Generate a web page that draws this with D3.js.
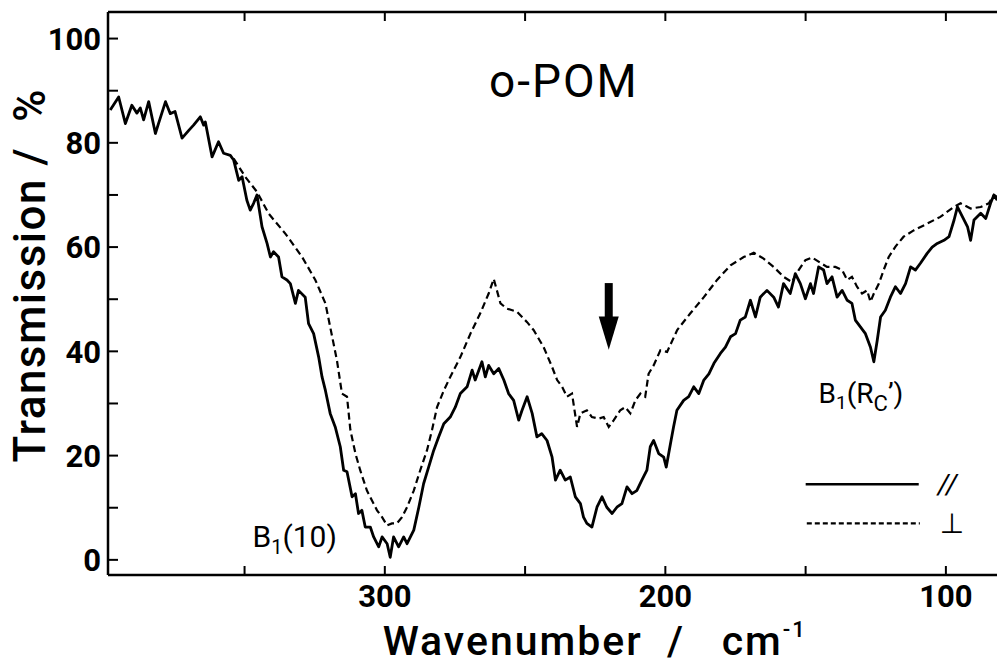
<!DOCTYPE html>
<html>
<head>
<meta charset="utf-8">
<script src="https://cdn.jsdelivr.net/npm/d3@7"></script>
<style>
  body { margin: 0; background: #fff; }
  svg text { font-family: Roboto, "DejaVu Sans", sans-serif; fill: #000; white-space: pre; }
</style>
</head>
<body>
<div id="chart"></div>
<script>
// wavenumber (cm-1) and transmission (%)
const parWn = [397.7, 394.7, 392.3, 390, 388.2, 387, 385.8, 384, 381.6, 380.5, 378, 376.3, 374.6, 372.1, 369.7, 368, 365.6, 364.4, 363.8, 361.4,
  359.1, 357.3, 354.9, 353.7, 351.9, 350.7, 349, 347.8, 346.6, 345.4, 343.6, 341.8, 340.6, 339.5, 337.7, 336.5, 334.7, 333.5, 331.7, 330.6,
  328.2, 327, 325.2, 323.4, 322.2, 321, 319.3, 317.5, 315.7, 314.5, 313.3, 311.5, 310.3, 309.2, 308, 306.8, 305, 303.8, 302, 300.8,
  299, 297.9, 296.7, 294.9, 293.1, 291.9, 289.5, 287.7, 286, 284.2, 282.4, 280.6, 278.8, 276.5, 274.7, 272.9, 270.5, 268.7, 267.6, 265.2,
  264, 262.8, 261, 259.2, 257.4, 255.7, 253.9, 252.1, 250.9, 249.1, 247.3, 245.6, 243.9, 242, 240.2, 239, 237.3, 235.5, 233.7, 231.9,
  230.1, 229, 227.8, 226, 224.2, 222.4, 220.7, 218.8, 217.1, 215.3, 213.5, 211.7, 210, 208.2, 206.4, 205.2, 204, 202.2, 200.4, 199.5,
  198, 196.9, 195.7, 193.3, 191.5, 189.7, 187.9, 186.1, 184.3, 182.5, 180.2, 178.4, 176.6, 174.8, 173.1, 171.3, 169.5, 167.7, 166, 163.6,
  161.2, 159.5, 157.7, 155.3, 153.5, 151.7, 149.9, 148.1, 147, 145.2, 143.4, 142.2, 140.4, 138.6, 136.8, 135, 133.3, 132.1, 130.3, 128.5,
  126.7, 125.5, 124.3, 123.1, 121.4, 119.6, 117.8, 116, 114.2, 112.4, 110.7, 108.9, 106.5, 104.7, 102.9, 100.5, 98.7, 96.9, 95.7, 93.9,
  92.1, 91, 89.8, 87.4, 85.6, 83.9, 82.7, 81.5];
const parT = [86.2, 88.7, 83.6, 87.1, 85.6, 86.6, 84.3, 87.8, 81.7, 83.6, 87.8, 85.5, 85.9, 80.8, 82.3, 83.3, 84.9, 83.3, 83.9, 77.2,
  80.1, 77.9, 77.5, 76.6, 72.7, 73.4, 68.9, 67, 68.3, 69.9, 63.8, 60.6, 58, 59, 58, 54.2, 53.6, 52.9, 49.1, 51.6,
  50.3, 45.2, 43.3, 38.8, 35, 32.4, 28, 25.4, 21.6, 17.1, 16.8, 12, 12.6, 8.8, 9.4, 6.2, 6.2, 4.3, 2.4, 4.3,
  3.0, 0.4, 4.3, 2.4, 4.3, 3.0, 5.6, 10, 14.5, 17.7, 20.9, 23.5, 26, 27.3, 29.2, 31.8, 33.1, 36.3, 34.4, 37.9,
  35, 37.2, 35.6, 36.6, 34.4, 31.8, 30.5, 26.7, 28.6, 31.2, 28, 23.5, 24.1, 22.8, 19.6, 15.2, 17.1, 15.2, 15.8, 12,
  10.7, 8.1, 6.9, 6.2, 10, 12, 10, 8.8, 10, 10.7, 13.9, 12.6, 13.2, 15.2, 17.1, 21.6, 22.8, 20.3, 19.6, 17.7,
  22.2, 25.4, 28.6, 30.5, 31.2, 33.1, 31.8, 34.4, 35.6, 37.6, 39.5, 40.7, 42.7, 43.3, 45.9, 46.5, 49.7, 46.5, 50.3, 51.6,
  50.3, 48.4, 52.9, 51, 54.8, 52.9, 50, 52.9, 51, 56.1, 55.5, 52.9, 54.2, 50.3, 51.6, 49.7, 49.1, 45.9, 44.6, 43.3,
  40.7, 37.9, 42, 46.5, 47.8, 50.3, 52.3, 51, 52.9, 56.1, 55.5, 56.8, 58.7, 59.9, 60.6, 61.2, 61.9, 65.1, 67.6, 65.7,
  63.8, 61.2, 65.1, 66.4, 65.4, 68.3, 69.9, 68.9];

const perpWn = [353.7, 349.6, 345.4, 341.2, 335.3, 329.3, 324.6, 321, 319.3, 316.9, 315.1, 313.3, 312.1, 310.3, 308.6, 306.2, 304.4, 302.6, 300.8, 299,
  297.3, 295.5, 293.7, 291.9, 289.5, 287.2, 284.8, 283, 281.2, 278.8, 276.5, 272.9, 269.3, 265.8, 262.8, 261, 258.6, 256.3, 252.7, 249.1,
  246.8, 243.2, 240.2, 238.4, 236.6, 234.9, 233.1, 231.3, 230.1, 227.8, 226, 223.6, 221.8, 220, 218.2, 215.9, 214.1, 212.3, 210.5, 208.7,
  207, 205.8, 204, 201.6, 199.2, 195.6, 190.9, 186.1, 181.4, 176.6, 171.9, 168.3, 164.8, 161.2, 157.7, 154.7, 152.3, 149.9, 147.5, 145.2,
  142.2, 139.2, 136.8, 135, 133.3, 131.5, 129.7, 127.9, 126.7, 125.5, 123.7, 122, 120.2, 117.8, 114.9, 111.3, 106.5, 101.8, 97, 94.6,
  91, 87.4, 84.5, 82.7, 81.5];
const perpT = [76.9, 73.4, 70.5, 66.3, 62.5, 58, 53.6, 49.1, 44.6, 38.2, 31.8, 31.2, 24.8, 20.3, 17.1, 13.2, 11.3, 9.4, 8.1, 6.5,
  6.9, 6.9, 8.1, 10, 13.2, 17.1, 20.9, 24.8, 29.2, 32.4, 35, 38.8, 43.3, 47.2, 51, 53.8, 49.1, 48.1, 47.5, 45.5,
  44, 40.7, 36.9, 34.4, 33.1, 31.2, 31.8, 25.4, 28, 28.6, 27.3, 27, 27.3, 25.4, 26.7, 28.6, 29.2, 28, 30.5, 31.8,
  31.2, 35.6, 37.2, 40.1, 39.8, 44, 47.2, 50.3, 53.6, 56.4, 58, 58.8, 57.7, 56.1, 54.2, 53.2, 55.5, 57.4, 57.9, 57.1,
  56.1, 56.1, 55.5, 53.6, 54.2, 52.3, 51, 51.6, 49.4, 51, 52.9, 55.5, 58, 60, 61.9, 63.1, 64.4, 65.7, 67.6, 68.3,
  67.3, 67.6, 68.3, 69.9, 69.5];

const yTicks = [0, 20, 40, 60, 80, 100];
const yMinor = [10, 30, 50, 70, 90];
const xTicks = [350, 300, 250, 200, 150, 100];
const xLabels = [300, 200, 100];

const w = 997;
const h = 667;
const margin = { top: 12, right: 0, bottom: 92, left: 108 };

const svg = d3.select('#chart').append('svg').attr('width', w).attr('height', h);

const x = d3.scaleLinear().domain([398.5, 81.6]).range([margin.left, w - margin.right]);
const y = d3.scaleLinear().domain([-3, 105]).range([h - margin.bottom, margin.top]);

const plotBottom = h - margin.bottom;

// left axis, ticks pointing inward
svg.append('g')
  .attr('transform', `translate(${margin.left},0)`)
  .call(d3.axisLeft(y).tickValues(yTicks).tickSizeInner(-10).tickSizeOuter(0).tickPadding(7).tickFormat(d3.format('d')))
  .call(g => g.select('.domain').remove())
  .call(g => g.selectAll('line').attr('stroke-width', 2))
  .call(g => g.selectAll('text').attr('font-size', 31).attr('font-weight', 700).attr('dy', '0.36em'));

svg.append('g')
  .attr('transform', `translate(${margin.left},0)`)
  .call(d3.axisLeft(y).tickValues(yMinor).tickSizeInner(-10).tickSizeOuter(0).tickFormat(''))
  .call(g => g.select('.domain').remove())
  .call(g => g.selectAll('line').attr('stroke-width', 2));

// bottom axis
svg.append('g')
  .attr('transform', `translate(0,${plotBottom})`)
  .call(d3.axisBottom(x).tickValues(xTicks).tickSizeInner(-9).tickSizeOuter(0).tickPadding(10)
    .tickFormat(d => xLabels.includes(d) ? d : ''))
  .call(g => g.select('.domain').remove())
  .call(g => g.selectAll('line').attr('stroke-width', 2))
  .call(g => g.selectAll('text').attr('font-size', 31).attr('font-weight', 700).attr('dy', '0.71em'));

// top axis
svg.append('g')
  .attr('transform', `translate(0,${margin.top})`)
  .call(d3.axisTop(x).tickValues(xTicks).tickSizeInner(-9).tickSizeOuter(0).tickFormat(''))
  .call(g => g.select('.domain').remove())
  .call(g => g.selectAll('line').attr('stroke-width', 2));

// frame lines
const frame = svg.append('g').attr('stroke', '#000').attr('stroke-width', 2.5).attr('fill', 'none');
frame.append('line').attr('x1', margin.left).attr('x2', margin.left).attr('y1', margin.top).attr('y2', plotBottom);
frame.append('line').attr('x1', margin.left).attr('x2', w).attr('y1', plotBottom).attr('y2', plotBottom);
frame.append('line').attr('x1', margin.left).attr('x2', w).attr('y1', margin.top).attr('y2', margin.top);

// spectra
const line = d3.line().x(d => x(d[0])).y(d => y(d[1]));
const parData = parWn.map((v, i) => [v, parT[i]]);
const perpData = perpWn.map((v, i) => [v, perpT[i]]);

svg.append('path')
  .datum(perpData)
  .attr('d', line)
  .attr('fill', 'none')
  .attr('stroke', '#000')
  .attr('stroke-width', 2.2)
  .attr('stroke-dasharray', '7,4');

svg.append('path')
  .datum(parData)
  .attr('d', line)
  .attr('fill', 'none')
  .attr('stroke', '#000')
  .attr('stroke-width', 2.8)
  .attr('stroke-linejoin', 'round');

// title
svg.append('text')
  .attr('x', x(236))
  .attr('y', 97)
  .attr('text-anchor', 'middle')
  .attr('font-size', 46)
  .attr('letter-spacing', 2)
  .text('o-POM');

// axis titles
svg.append('text')
  .attr('transform', `translate(45,${y(54.5)}) rotate(-90)`)
  .attr('text-anchor', 'middle')
  .attr('font-size', 44)
  .attr('font-weight', 500)
  .attr('letter-spacing', 1.5)
  .text('Transmission /  %');

const xt = svg.append('text')
  .attr('x', x(225))
  .attr('y', 655)
  .attr('text-anchor', 'middle')
  .attr('font-size', 41)
  .attr('font-weight', 500)
  .attr('letter-spacing', 2);
xt.append('tspan').text('Wavenumber  /   cm');
xt.append('tspan').attr('font-size', 22).attr('dy', -18).text('-1');

// peak labels
const b10 = svg.append('text').attr('x', x(347)).attr('y', 547).attr('font-size', 30);
b10.append('tspan').text('B');
b10.append('tspan').attr('font-size', 20).attr('dy', 7).text('1');
b10.append('tspan').attr('dy', -7).text('(10)');

const brc = svg.append('text').attr('x', x(145.2)).attr('y', 403).attr('font-size', 28);
brc.append('tspan').text('B');
brc.append('tspan').attr('font-size', 19).attr('dy', 6).text('1');
brc.append('tspan').attr('dy', -6).text('(R');
brc.append('tspan').attr('font-size', 22).attr('dy', 8).text('C');
brc.append('tspan').attr('dy', -8).text('\u2019)');

// arrow marking the band
const ax = x(220);
svg.append('line')
  .attr('x1', ax).attr('x2', ax)
  .attr('y1', y(53)).attr('y2', y(46))
  .attr('stroke', '#000').attr('stroke-width', 8);
svg.append('path')
  .attr('d', `M${ax - 10},${y(46.6)} L${ax + 10},${y(46.6)} L${ax},${y(40.2)} Z`)
  .attr('fill', '#000');

// legend
const legend = svg.append('g');
legend.append('line')
  .attr('x1', x(149.8)).attr('x2', x(109.5))
  .attr('y1', y(14.4)).attr('y2', y(14.4))
  .attr('stroke', '#000').attr('stroke-width', 2.6);
legend.append('text')
  .attr('x', x(102.7)).attr('y', y(14.4) + 10)
  .attr('font-size', 28).attr('font-style', 'italic')
  .text('//');
legend.append('line')
  .attr('x1', x(149.4)).attr('x2', x(109.1))
  .attr('y1', y(6.9)).attr('y2', y(6.9))
  .attr('stroke', '#000').attr('stroke-width', 2.2).attr('stroke-dasharray', '5,3');
legend.append('text')
  .attr('x', x(102)).attr('y', y(6.9) + 10)
  .attr('font-size', 28)
  .attr('font-family', '"DejaVu Sans", sans-serif')
  .text('\u22A5');
</script>
</body>
</html>
